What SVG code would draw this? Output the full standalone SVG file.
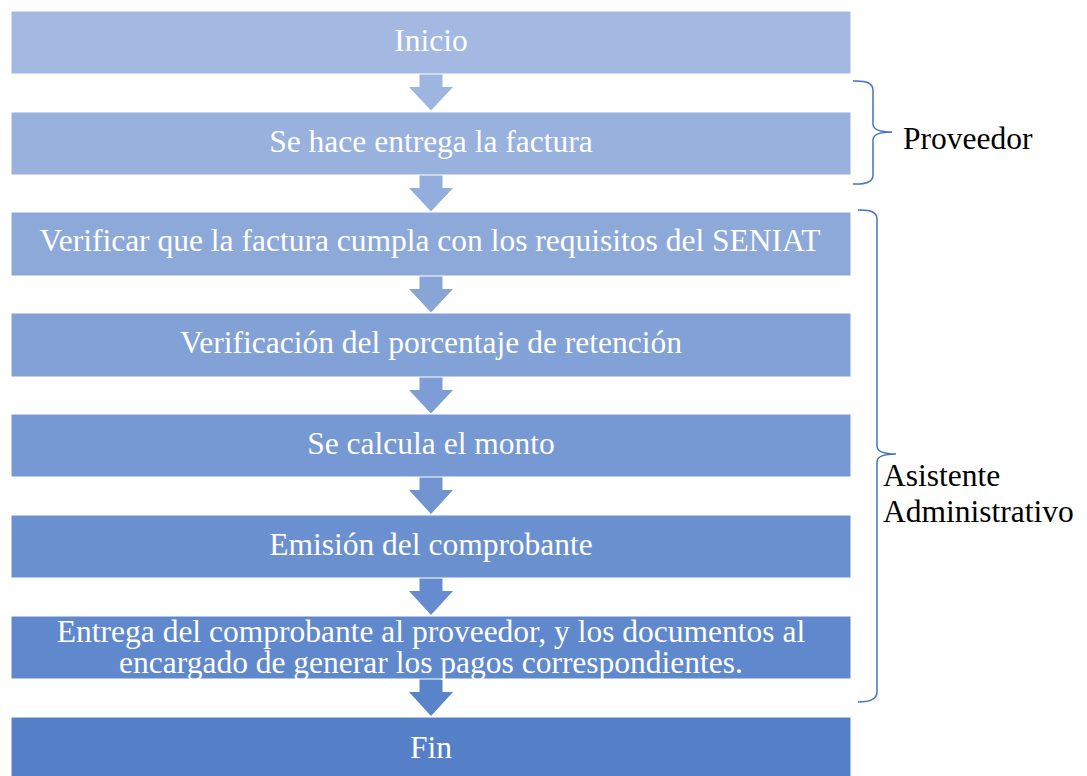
<svg xmlns="http://www.w3.org/2000/svg" width="1087" height="776" viewBox="0 0 1087 776">
<style>
.box{stroke:#ffffff;stroke-width:1}
.t{font-family:'Liberation Serif',serif;font-size:31.5px;fill:#ffffff;text-anchor:middle}
.lbl{font-family:'Liberation Serif',serif;font-size:31.5px;fill:#000000}
.brace{fill:none;stroke:#4472C4;stroke-width:1.5}
</style>
<rect x="0" y="0" width="1087" height="776" fill="#ffffff"/>
<g id="connectors">
<polygon points="419.5,70 442.5,70 442.5,87 453,87 431,110.5 409,87 419.5,87" fill="#9EB5DF"/>
<polygon points="419.5,171 442.5,171 442.5,188 453,188 431,211.5 409,188 419.5,188" fill="#93ADDC"/>
<polygon points="419.5,272 442.5,272 442.5,289 453,289 431,312.5 409,289 419.5,289" fill="#88A5D8"/>
<polygon points="419.5,373 442.5,373 442.5,390 453,390 431,413.5 409,390 419.5,390" fill="#7C9DD5"/>
<polygon points="419.5,473 442.5,473 442.5,490 453,490 431,514 409,490 419.5,490" fill="#7194D1"/>
<polygon points="419.5,574 442.5,574 442.5,591 453,591 431,615 409,591 419.5,591" fill="#658CCE"/>
<polygon points="419.5,675 442.5,675 442.5,692 453,692 431,716 409,692 419.5,692" fill="#5A84CA"/>
</g>
<g id="n1"><rect class="box" x="11" y="11" width="840" height="63" fill="#A3B9E1"/><text class="t" x="431" y="51">Inicio</text></g>
<g id="n2"><rect class="box" x="11" y="112" width="840" height="63" fill="#98B1DD"/><text class="t" x="431" y="152">Se hace entrega la factura</text></g>
<g id="n3"><rect class="box" x="11" y="212" width="840" height="64" fill="#8DA9DA"/><text class="t" x="430" y="251">Verificar que la factura cumpla con los requisitos del SENIAT</text></g>
<g id="n4"><rect class="box" x="11" y="313" width="840" height="64" fill="#82A1D6"/><text class="t" x="431" y="353">Verificación del porcentaje de retención</text></g>
<g id="n5"><rect class="box" x="11" y="414" width="840" height="63" fill="#7698D3"/><text class="t" x="431" y="454">Se calcula el monto</text></g>
<g id="n6"><rect class="box" x="11" y="515" width="840" height="63" fill="#6B90CF"/><text class="t" x="431" y="555">Emisión del comprobante</text></g>
<g id="n7"><rect class="box" x="11" y="616" width="840" height="63" fill="#6088CC"/><text class="t" x="431" y="642">Entrega del comprobante al proveedor, y los documentos al</text><text class="t" x="431" y="673">encargado de generar los pagos correspondientes.</text></g>
<g id="n8"><rect class="box" x="11" y="717" width="840" height="64" fill="#5580C8"/><text class="t" x="431" y="758">Fin</text></g>
<g id="proveedor">
<path class="brace" d="M853,81 Q873,80 873,90 L873,124 Q873,132 892,132 Q873,132 873,140 L873,175 Q873,185 853,184"/>
<text class="lbl" x="903" y="149">Proveedor</text>
</g>
<g id="asistente">
<path class="brace" d="M858,210 Q877,209 877,219 L877,446 Q877,454 896,454 Q877,454 877,462 L877,692 Q877,702 858,702"/>
<text class="lbl" x="883" y="486">Asistente</text>
<text class="lbl" x="883" y="522">Administrativo</text>
</g>
</svg>
